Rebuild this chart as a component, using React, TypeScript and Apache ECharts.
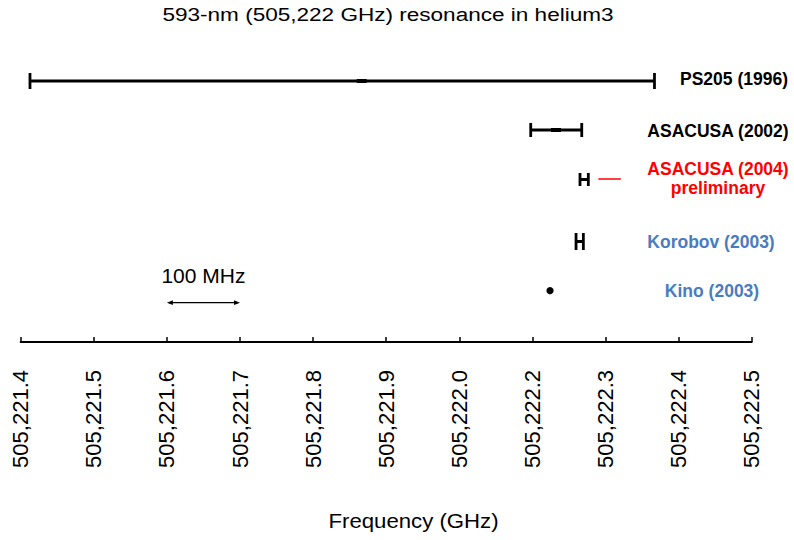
import React, { useEffect, useRef } from "react";
import * as echarts from "echarts";

// ---- data (axis units: GHz as spaced on the drawn axis) ----
const names = ["PS205 (1996)", "ASACUSA (2002)", "ASACUSA (2004)\npreliminary", "Korobov (2003)", "Kino (2003)"];
const centers = [505221.8665, 505222.1323, 505222.1709, 505222.1647, 505222.1241];
const lowers = [505221.4127, 505222.0977, 505222.1651, 505222.1597, 505222.1241];
const uppers = [505222.267, 505222.1675, 505222.1765, 505222.1697, 505222.1241];
const rows = [261, 212, 162.5, 100.5, 51.3];
const tickLabels = [
  "505,221.4", "505,221.5", "505,221.6", "505,221.7", "505,221.8", "505,221.9",
  "505,222.0", "505,222.2", "505,222.3", "505,222.4", "505,222.5",
];
const scaleFrom = [505221.6];
const scaleTo = [505221.7];
const scaleRow = [39.3];
const scaleText = "100 MHz";
const titleText = "593-nm (505,222 GHz) resonance in helium3";
const axisTitle = "Frequency (GHz)";

const X_MIN = 505221.4;
const X_MAX = 505222.4;
const X_STEP = 0.1;

// ---- styles / layout ----
const labelColors = ["#000000", "#000000", "#ff0000", "#4a7bc0", "#4a7bc0"];
const labelCenterX = [734, 718, 718, 711, 712];
const labelDy = [-2, 1, -1.5, 0, 0];
const capHeights = [16, 14, 13, 17, 0];
const FONT = '"Liberation Sans", Arial, Helvetica, sans-serif';

export default function App() {
  const ref = useRef<HTMLDivElement>(null);

  useEffect(() => {
    if (!ref.current) return;
    const chart = echarts.init(ref.current, undefined, { renderer: "svg" });

    const barData = names.map((_, i) => [lowers[i], centers[i], uppers[i], rows[i], i]);

    const option: any = {
      animation: false,
      backgroundColor: "#ffffff",
      grid: { left: 20.7, right: 42.3, top: 42, bottom: 198, containLabel: false },
      xAxis: {
        type: "value",
        min: X_MIN,
        max: X_MAX,
        interval: X_STEP,
        axisLine: { show: true, onZero: false, lineStyle: { color: "#000", width: 2 } },
        axisTick: { show: true, inside: true, length: 5, lineStyle: { color: "#000", width: 1.5 } },
        splitLine: { show: false },
        axisLabel: {
          rotate: 90,
          margin: 28,
          fontSize: 22,
          fontFamily: FONT,
          color: "#000",
          showMinLabel: true,
          showMaxLabel: true,
          formatter: (v: number) => tickLabels[Math.round((v - X_MIN) / X_STEP)] ?? "",
        },
      },
      yAxis: { type: "value", min: 0, max: 300, show: false },
      graphic: [
        {
          type: "text",
          x: 388,
          y: 14,
          scaleX: 1.2,
          style: {
            text: titleText,
            fontSize: 18.8,
            fontFamily: FONT,
            fill: "#000",
            align: "center",
            verticalAlign: "middle",
            textAlign: "center",
            textVerticalAlign: "middle",
          },
        },
        {
          type: "text",
          x: 413.5,
          y: 521,
          scaleX: 1.11,
          style: {
            text: axisTitle,
            fontSize: 20,
            fontFamily: FONT,
            fill: "#000",
            align: "center",
            verticalAlign: "middle",
            textAlign: "center",
            textVerticalAlign: "middle",
          },
        },
      ],
      series: [
        {
          type: "custom",
          clip: false,
          data: barData,
          encode: { x: [0, 1, 2], y: 3 },
          renderItem: (params: any, api: any) => {
            const i = api.value(4);
            const row = api.value(3);
            const lo = api.coord([api.value(0), row]);
            const c = api.coord([api.value(1), row]);
            const hi = api.coord([api.value(2), row]);
            const y = c[1];
            const children: any[] = [];
            if (hi[0] - lo[0] < 1) {
              children.push({
                type: "circle",
                shape: { cx: c[0], cy: y, r: 3.6 },
                style: { fill: "#000" },
              });
            } else {
              const h = capHeights[i];
              children.push({
                type: "line",
                shape: { x1: lo[0], y1: y, x2: hi[0], y2: y },
                style: { stroke: "#000", lineWidth: 3 },
              });
              children.push({
                type: "rect",
                shape: { x: lo[0] - 1.4, y: y - h / 2, width: 2.8, height: h },
                style: { fill: "#000" },
              });
              children.push({
                type: "rect",
                shape: { x: hi[0] - 1.4, y: y - h / 2, width: 2.8, height: h },
                style: { fill: "#000" },
              });
              if (hi[0] - lo[0] > 30) {
                children.push({
                  type: "rect",
                  shape: { x: c[0] - 5, y: y - 2, width: 10, height: 4 },
                  style: { fill: "#000" },
                });
              }
              if (i === 2) {
                children.push({
                  type: "line",
                  shape: { x1: hi[0] + 10, y1: y - 0.5, x2: hi[0] + 32.5, y2: y - 0.5 },
                  style: { stroke: "#ff0000", lineWidth: 1.5 },
                });
              }
            }
            children.push({
              type: "text",
              x: labelCenterX[i],
              y: y + labelDy[i],
              style: {
                text: names[i],
                fontSize: 17.5,
                fontWeight: "bold",
                fontFamily: FONT,
                fill: labelColors[i],
                align: "center",
                verticalAlign: "middle",
                textAlign: "center",
                textVerticalAlign: "middle",
                lineHeight: 19,
              },
            });
            return { type: "group", children };
          },
        },
        {
          type: "custom",
          clip: false,
          data: scaleFrom.map((f, i) => [f, scaleTo[i], scaleRow[i]]),
          encode: { x: [0, 1], y: 2 },
          renderItem: (params: any, api: any) => {
            const a = api.coord([api.value(0), api.value(2)]);
            const b = api.coord([api.value(1), api.value(2)]);
            const y = a[1];
            return {
              type: "group",
              children: [
                {
                  type: "line",
                  shape: { x1: a[0] + 2, y1: y, x2: b[0] - 2, y2: y },
                  style: { stroke: "#000", lineWidth: 1.3 },
                },
                {
                  type: "polygon",
                  shape: { points: [[a[0], y], [a[0] + 6, y - 2.4], [a[0] + 6, y + 2.4]] },
                  style: { fill: "#000" },
                },
                {
                  type: "polygon",
                  shape: { points: [[b[0], y], [b[0] - 6, y - 2.4], [b[0] - 6, y + 2.4]] },
                  style: { fill: "#000" },
                },
                {
                  type: "text",
                  x: (a[0] + b[0]) / 2,
                  y: y - 27,
                  style: {
                    text: scaleText,
                    fontSize: 21,
                    fontFamily: FONT,
                    fill: "#000",
                    align: "center",
                    verticalAlign: "middle",
                    textAlign: "center",
                    textVerticalAlign: "middle",
                  },
                },
              ],
            };
          },
        },
      ],
    };

    chart.setOption(option);
    return () => chart.dispose();
  }, []);

  return (
    <div
      ref={ref}
      style={{ position: "fixed", left: 0, top: 0, width: 794, height: 540, background: "#fff" }}
    />
  );
}
